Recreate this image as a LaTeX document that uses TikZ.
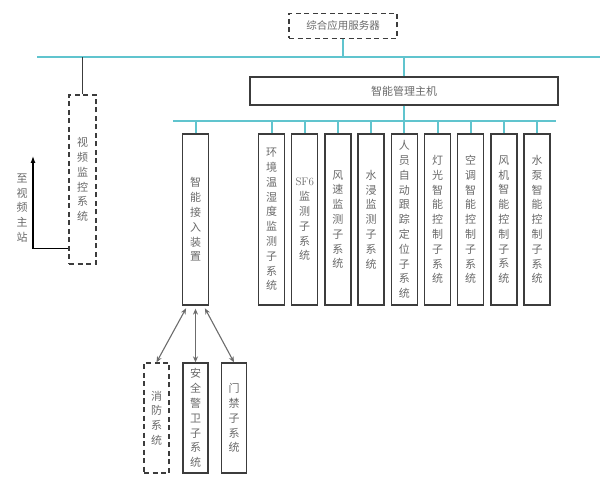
\documentclass[tikz,border=0pt]{standalone}
\usepackage{fontspec}
\newfontfamily\cjk{Noto Sans CJK SC}
\usetikzlibrary{positioning,arrows.meta}
\definecolor{buscol}{RGB}{96,196,206}
\definecolor{boxcol}{RGB}{60,60,60}
\definecolor{txtcol}{RGB}{105,105,105}

\begin{document}
\begin{tikzpicture}[x=1pt,y=-1pt,>={Stealth[length=6pt,width=5pt]},
    bus/.style={buscol,line width=2.6pt},
    box/.style={draw=boxcol,line width=1.3pt,text=txtcol,inner sep=0pt,
                font=\cjk\fontsize{11}{14.8}\selectfont,align=center},
    sub/.style={box,minimum width=26pt,minimum height=171pt},
    dbox/.style={box,dash pattern=on 5pt off 3.5pt},
    lbl/.style={text=txtcol,inner sep=0pt,font=\cjk\fontsize{11}{14.8}\selectfont,align=center},
    link/.style={<->,draw=gray!85!black,line width=1.1pt,shorten <=3pt}]
  \useasboundingbox (0,0) rectangle (600,494);

  % server and main bus
  \node[dbox,minimum width=108pt,minimum height=25pt,font=\cjk\fontsize{10.5}{12}\selectfont] (srv) at (343,26) {综合应用服务器};
  \coordinate (tl) at (37,57);
  \coordinate (tr) at (600,57);
  \draw[bus] (tl) -- (tr);
  \draw[bus,line width=2pt] (srv.south) -- (srv.south |- tl);

  % host
  \node[box,minimum width=308pt,minimum height=28pt] (host) at (404,91) {智能管理主机};
  \draw[bus,line width=2pt] (host.north) -- (host.north |- tl);
  \coordinate (bl) at (173,121);
  \coordinate (br) at (556,121);
  \draw[bus] (bl) -- (br);
  \draw[bus,line width=2pt] (host.south) -- (host.south |- bl);

  % video
  \node[dbox,minimum width=27pt,minimum height=169pt] (vid) at (82.5,179.5) {视\\频\\监\\控\\系\\统};
  \draw[boxcol,line width=1pt] (vid.north) -- (vid.north |- tl);
  \coordinate (vm) at (33,156);
  \draw[-{Latex[length=7pt,width=5pt]},black,line width=1.2pt] ([yshift=16pt]vid.south west) -| (vm);
  \node[lbl] (tovm) at (22,208) {至\\视\\频\\主\\站};

  % access device
  \node[sub] (acc) at (195.5,219.5) {智\\能\\接\\入\\装\\置};

  % subsystems
  \node[sub] (s1) at (271.5,219.5) {环\\境\\温\\湿\\度\\监\\测\\子\\系\\统};
  \node[sub,right=5.9pt of s1] (s2) {\textrm{SF6}\\监\\测\\子\\系\\统};
  \node[sub,right=5.9pt of s2] (s3) {风\\速\\监\\测\\子\\系\\统};
  \node[sub,right=5.9pt of s3] (s4) {水\\浸\\监\\测\\子\\系\\统};
  \node[sub,right=5.9pt of s4] (s5) {人\\员\\自\\动\\跟\\踪\\定\\位\\子\\系\\统};
  \node[sub,right=5.9pt of s5] (s6) {灯\\光\\智\\能\\控\\制\\子\\系\\统};
  \node[sub,right=5.9pt of s6] (s7) {空\\调\\智\\能\\控\\制\\子\\系\\统};
  \node[sub,right=5.9pt of s7] (s8) {风\\机\\智\\能\\控\\制\\子\\系\\统};
  \node[sub,right=5.9pt of s8] (s9) {水\\泵\\智\\能\\控\\制\\子\\系\\统};
  \foreach \n in {acc,s1,s2,s3,s4,s5,s6,s7,s8,s9}
    \draw[bus,line width=2pt] (\n.north) -- (\n.north |- bl);

  % field systems
  \node[dbox,minimum width=25pt,minimum height=110pt] (fire) at (156.5,418) {消\\防\\系\\统};
  \node[box,minimum width=25pt,minimum height=110pt] (guard) at (195.5,418) {安\\全\\警\\卫\\子\\系\\统};
  \node[box,minimum width=25pt,minimum height=110pt] (gate) at (234,418) {门\\禁\\子\\系\\统};
  \draw[link] ([xshift=-8pt]acc.south) -- (fire.north);
  \draw[link] (acc.south) -- (guard.north);
  \draw[link] ([xshift=8pt]acc.south) -- (gate.north);
\end{tikzpicture}
\end{document}
